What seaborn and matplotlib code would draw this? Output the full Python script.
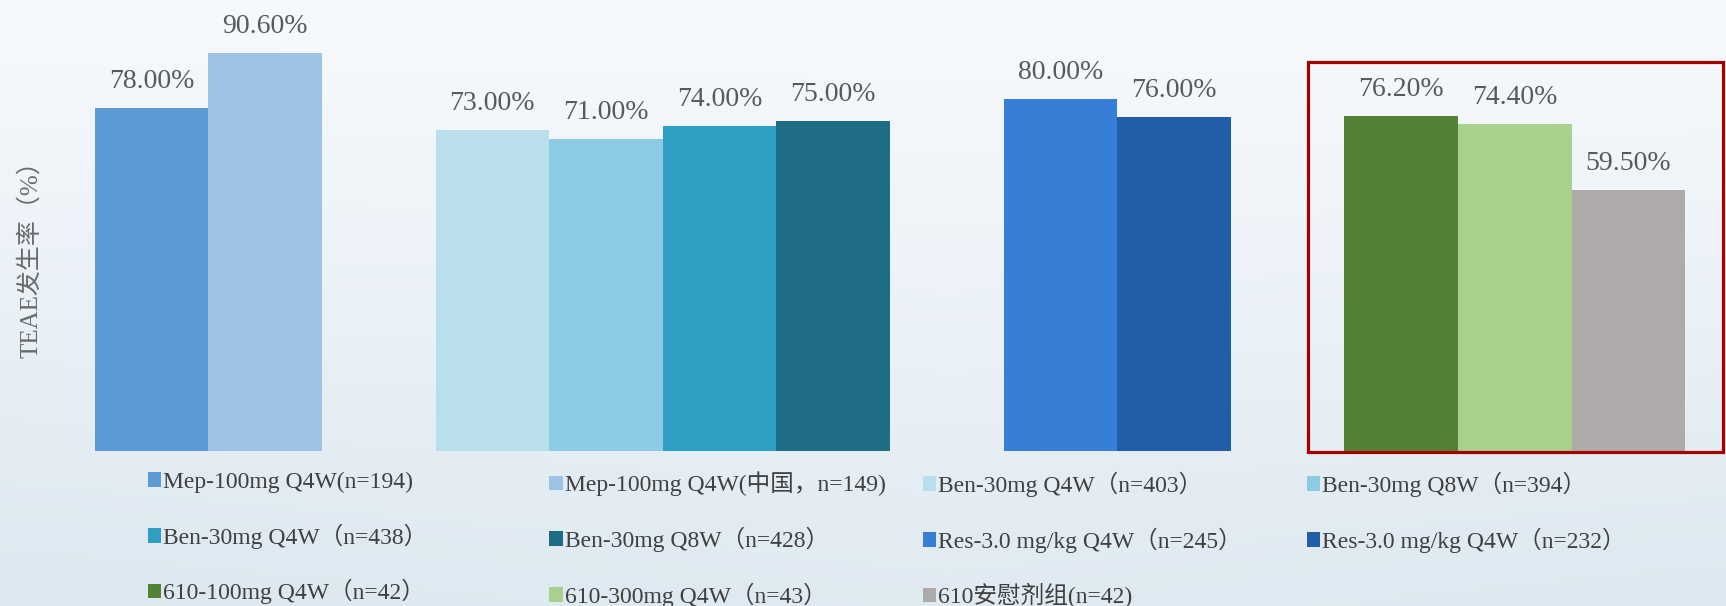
import numpy as np
import pandas as pd
import matplotlib
matplotlib.use("Agg")
import matplotlib.pyplot as plt
import seaborn as sns
from matplotlib.patches import Patch, Rectangle
from matplotlib.colors import to_rgb

# ---- data -------------------------------------------------------------
arm_labels = [
    "Mep-100mg Q4W(n=194)",
    "Mep-100mg Q4W(中国，n=149)",
    "Ben-30mg Q4W（n=403）",
    "Ben-30mg Q8W（n=394）",
    "Ben-30mg Q4W（n=438）",
    "Ben-30mg Q8W（n=428）",
    "Res-3.0 mg/kg Q4W（n=245）",
    "Res-3.0 mg/kg Q4W（n=232）",
    "610-100mg Q4W（n=42）",
    "610-300mg Q4W（n=43）",
    "610安慰剂组(n=42)",
]
incidence = [78.00, 90.60, 73.00, 71.00, 74.00, 75.00, 80.00, 76.00, 76.20, 74.40, 59.50]
arm_colors = [
    "#5b9bd5", "#9dc3e6",
    "#b9dfec", "#8ccbe3", "#2e9ec3", "#1f6d84",
    "#377fd6", "#225ea8",
    "#538135", "#a9d18e", "#aeaaaa",
]
group_sizes = [2, 4, 2, 3]
y_label = "TEAE发生率（%）"

# ---- layout helpers ---------------------------------------------------
W, H = 1726, 606
slot_pos = []
p = 0
for g in group_sizes:
    slot_pos.extend(range(p, p + g))
    p += g + 1

df = pd.DataFrame({"arm": arm_labels, "pos": slot_pos, "pct": incidence})
palette = dict(zip(arm_labels, arm_colors))

sns.set_theme(style="white")
plt.rcParams["font.family"] = ["Liberation Serif", "Noto Sans CJK SC"]

fig = plt.figure(figsize=(W / 100, H / 100), dpi=100)

# soft blue-grey backdrop
bg = fig.add_axes([0, 0, 1, 1], zorder=-10)
yy, xx = np.mgrid[0:1:240j, 0:1:480j]
top, bottom = np.array(to_rgb("#f7fafd")), np.array(to_rgb("#d9e5ee"))
t = np.clip(0.75 * yy + 0.25 * np.abs(xx - 0.55) * yy, 0, 1)[..., None]
bg.imshow(top * (1 - t) + bottom * t, aspect="auto", extent=[0, 1, 0, 1], origin="upper")
bg.set_axis_off()

# main bar axes
left_px, right_px, base_px = 94.7, 1685.3, 451.3
px_per_pct = 4.40
ax = fig.add_axes([left_px / W, 1 - base_px / H, (right_px - left_px) / W, base_px / H])
ax.patch.set_alpha(0)

sns.barplot(data=df, x="pos", y="pct", hue="arm", palette=palette, native_scale=True,
            width=1.0, dodge=False, saturation=1, legend=False, ax=ax, errorbar=None,
            linewidth=0, edgecolor="none")

ax.set_xlim(-0.5, len(group_sizes) + sum(group_sizes) - 1.5)
ax.set_ylim(0, base_px / px_per_pct)
for s in ax.spines.values():
    s.set_visible(False)
ax.set_xticks([])
ax.set_yticks([])
ax.set_xlabel("")
ax.set_ylabel(y_label, fontsize=18, color="#6a6a6a")
ax.yaxis.set_label_coords(-0.033, 0.44)

for cont in ax.containers:
    ax.bar_label(cont, fmt="{:.2f}%", padding=10, fontsize=20, color="#595959")

# highlight box around the 610 arms
x0, x1 = 1307.7, 1722.8
y0, y1 = 61.6, 452.4
fig.add_artist(Rectangle((x0 / W, 1 - y1 / H), (x1 - x0) / W, (y1 - y0) / H,
                         transform=fig.transFigure, fill=False,
                         edgecolor="#a30000", linewidth=2.3))

# legend in four columns, row-major order
col_x = [147.5, 549.3, 922.5, 1306.7]
handles = [Patch(facecolor=c, edgecolor="none") for c in arm_colors]
for ci, cx in enumerate(col_x):
    idx = list(range(ci, len(arm_labels), 4))
    fig.legend([handles[i] for i in idx], [arm_labels[i] for i in idx],
               loc="upper left", bbox_to_anchor=(cx / W, 1 - 471.5 / H),
               frameon=False, borderpad=0, borderaxespad=0,
               handlelength=0.57, handleheight=0.57, handletextpad=0.08,
               labelspacing=1.3, fontsize=17, labelcolor="#404040")

fig.savefig("out.png", dpi=100)
